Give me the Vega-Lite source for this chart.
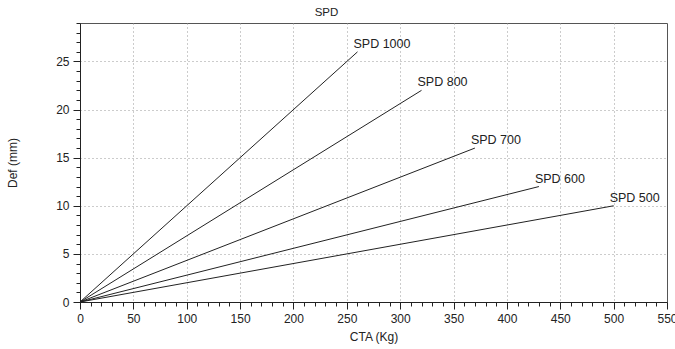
{
  "$schema": "https://vega.github.io/schema/vega-lite/v6.json",
  "width": 587,
  "height": 279,
  "autosize": {"type": "none"},
  "padding": {"left": 80, "top": 23, "right": 8, "bottom": 47},
  "background": "white",
  "title": {"text": "SPD", "font": "Liberation Sans", "fontSize": 11.5, "fontWeight": "normal", "color": "#222", "dx": -47, "offset": -1},
  "config": {
    "view": {"stroke": "#555", "strokeWidth": 1},
    "axis": {"labelFont": "Liberation Sans", "titleFont": "Liberation Sans", "labelFontSize": 12, "titleFontSize": 12, "titleFontWeight": "normal", "labelColor": "#222", "titleColor": "#222", "domainColor": "#222", "tickColor": "#222", "gridColor": "#999", "gridDash": [1, 3], "labelOverlap": false, "labelBound": false, "labelFlush": false}
  },
  "data": {"values": [
    {"s": "SPD 1000", "x": 0, "y": 0, "end": false},
    {"s": "SPD 1000", "x": 260, "y": 26, "end": true},
    {"s": "SPD 800", "x": 0, "y": 0, "end": false},
    {"s": "SPD 800", "x": 320, "y": 22, "end": true},
    {"s": "SPD 700", "x": 0, "y": 0, "end": false},
    {"s": "SPD 700", "x": 370, "y": 16, "end": true},
    {"s": "SPD 600", "x": 0, "y": 0, "end": false},
    {"s": "SPD 600", "x": 430, "y": 12, "end": true},
    {"s": "SPD 500", "x": 0, "y": 0, "end": false},
    {"s": "SPD 500", "x": 500, "y": 10, "end": true}
  ]},
  "encoding": {
    "x": {"field": "x", "type": "quantitative", "scale": {"domain": [0, 550], "nice": false},
      "axis": {"title": "CTA (Kg)", "titlePadding": 7,
        "values": [0,10,20,30,40,50,60,70,80,90,100,110,120,130,140,150,160,170,180,190,200,210,220,230,240,250,260,270,280,290,300,310,320,330,340,350,360,370,380,390,400,410,420,430,440,450,460,470,480,490,500,510,520,530,540,550],
        "labelExpr": "datum.value % 50 === 0 ? datum.label : ''",
        "tickSize": {"condition": {"test": "datum.value % 50 === 0", "value": 7}, "value": 4},
        "gridOpacity": {"condition": {"test": "datum.value % 50 === 0 && datum.value > 0 && datum.value < 550", "value": 1}, "value": 0},
        "labelPadding": 4}},
    "y": {"field": "y", "type": "quantitative", "scale": {"domain": [0, 29], "nice": false},
      "axis": {"title": "Def (mm)", "titlePadding": 36,
        "values": [0,1,2,3,4,5,6,7,8,9,10,11,12,13,14,15,16,17,18,19,20,21,22,23,24,25,26,27,28,29],
        "labelExpr": "datum.value % 5 === 0 ? datum.label : ''",
        "tickSize": {"condition": {"test": "datum.value % 5 === 0", "value": 7}, "value": 4},
        "gridOpacity": {"condition": {"test": "datum.value % 5 === 0 && datum.value > 0", "value": 1}, "value": 0},
        "labelPadding": 4}}
  },
  "layer": [
    {"mark": {"type": "line", "color": "#222", "strokeWidth": 1}, "encoding": {"detail": {"field": "s"}}},
    {"transform": [{"filter": "datum.end"}],
     "mark": {"type": "text", "align": "left", "baseline": "middle", "dx": -4, "dy": -8, "font": "Liberation Sans", "fontSize": 12.5, "color": "#222"},
     "encoding": {"text": {"field": "s"}}}
  ]
}
